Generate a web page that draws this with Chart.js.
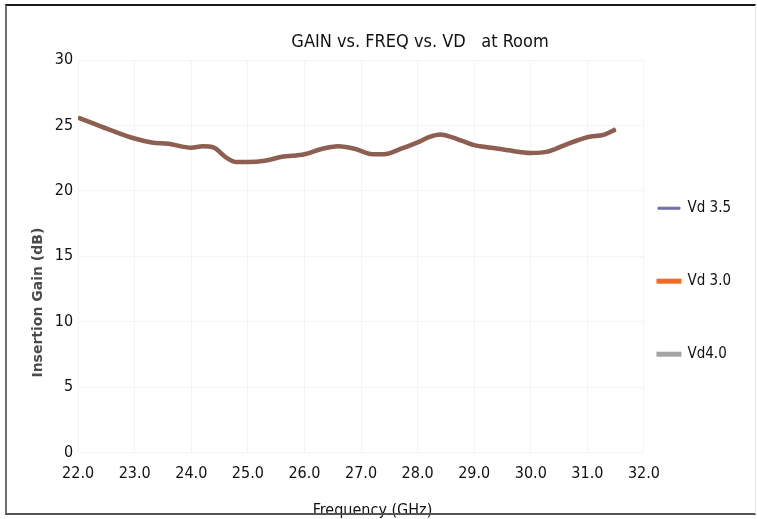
<!DOCTYPE html>
<html>
<head>
<meta charset="utf-8">
<script src="https://cdn.jsdelivr.net/npm/chart.js@4.4.1/dist/chart.umd.min.js"></script>
<style>
  html, body { margin: 0; padding: 0; background: #fff; }
  #wrap { position: absolute; left: 0; top: 0; width: 757px; height: 519px; }
  #frame {
    position: absolute; left: 5px; top: 4px; width: 748px; height: 507px;
    border-top: 2px solid #1a1a1a; border-left: 2px solid #6e6e6e;
    border-bottom: 2px solid #555; border-right: 1px solid #e6e6e6;
    pointer-events: none;
  }
</style>
</head>
<body>
<div id="wrap"><canvas id="gain" width="757" height="519"></canvas></div>
<div id="frame"></div>
<script>
// frequency (GHz) and gain (dB)
const freq = [22.0, 22.3, 22.6, 23.0, 23.3, 23.6, 24.0, 24.2, 24.4, 24.6, 24.8, 25.0, 25.3, 25.6, 26.0, 26.3, 26.6, 26.9, 27.2, 27.4, 27.7, 28.0, 28.2, 28.4, 28.6, 28.8, 29.0, 29.3, 29.6, 30.0, 30.3, 30.6, 31.0, 31.3, 31.5];
const vd35 = [25.6, 25.1, 24.6, 24.0, 23.7, 23.6, 23.3, 23.4, 23.3, 22.6, 22.2, 22.2, 22.3, 22.6, 22.8, 23.2, 23.4, 23.2, 22.8, 22.8, 23.2, 23.7, 24.1, 24.3, 24.1, 23.8, 23.5, 23.3, 23.1, 22.9, 23.0, 23.5, 24.1, 24.3, 24.7];
const vd30 = [25.6, 25.1, 24.6, 24.0, 23.7, 23.6, 23.3, 23.4, 23.3, 22.6, 22.2, 22.2, 22.3, 22.6, 22.8, 23.2, 23.4, 23.2, 22.8, 22.8, 23.2, 23.7, 24.1, 24.3, 24.1, 23.8, 23.5, 23.3, 23.1, 22.9, 23.0, 23.5, 24.1, 24.3, 24.7];
const vd40 = [25.6, 25.1, 24.6, 24.0, 23.7, 23.6, 23.3, 23.4, 23.3, 22.6, 22.2, 22.2, 22.3, 22.6, 22.8, 23.2, 23.4, 23.2, 22.8, 22.8, 23.2, 23.7, 24.1, 24.3, 24.1, 23.8, 23.5, 23.3, 23.1, 22.9, 23.0, 23.5, 24.1, 24.3, 24.7];
const seriesNames = ['Vd 3.5', 'Vd 3.0', 'Vd4.0'];
const legendColors = ['#6f6fa8', '#f26a21', '#a3a3a3'];
const legendWidths = [1, 3, 3];

const narrow = "'Liberation Sans Narrow', 'DejaVu Sans Condensed', sans-serif";

function pts(ys) { return freq.map((f, i) => ({ x: f, y: ys[i] })); }

// title is placed a bit right of center, as in the picture
const titlePlugin = {
  id: 'sideTitle',
  afterDraw(chart) {
    const ctx = chart.ctx;
    ctx.save();
    ctx.font = "18px " + narrow;
    ctx.fillStyle = '#111';
    ctx.textAlign = 'center';
    ctx.textBaseline = 'middle';
    ctx.fillText('GAIN vs. FREQ vs. VD   at Room', 420, 42);
    ctx.restore();
  }
};

new Chart(document.getElementById('gain'), {
  type: 'line',
  data: {
    datasets: [
      { label: seriesNames[2], data: pts(vd40), borderColor: '#8d5e52', borderWidth: 4.5 },
      { label: seriesNames[1], data: pts(vd30), borderColor: '#a85a40', borderWidth: 3 },
      { label: seriesNames[0], data: pts(vd35), borderColor: '#7a4d4e', borderWidth: 1.2 }
    ]
  },
  options: {
    responsive: false,
    animation: false,
    elements: { point: { radius: 0 }, line: { tension: 0.4, cubicInterpolationMode: 'monotone' } },
    layout: { padding: { top: 60, left: 30, right: 16, bottom: -1 } },
    plugins: {
      title: { display: false },
      tooltip: { enabled: false },
      legend: {
        position: 'right',
        title: { display: true, text: ' ', padding: { top: 6, bottom: 6 }, font: { size: 12 } },
        labels: {
          color: '#111',
          font: { family: narrow, size: 15, lineHeight: 1.311 },
          boxWidth: 22,
          boxHeight: 2,
          padding: 14,
          // extra empty lines give the wide gap between the items
          generateLabels() {
            return seriesNames.map((n, i) => ({
              text: [n, '', ''], fillStyle: legendColors[i], strokeStyle: legendColors[i],
              lineWidth: legendWidths[i], fontColor: '#111', datasetIndex: i, hidden: false
            }));
          }
        }
      }
    },
    scales: {
      x: {
        type: 'linear', min: 22, max: 32,
        ticks: { stepSize: 1, color: '#111', padding: 12, font: { family: narrow, size: 16 }, callback: v => v.toFixed(1) },
        grid: { color: '#f4f4f4', drawTicks: false },
        border: { display: false },
        title: { display: true, text: '\u00a0'.repeat(5) + 'Frequency (GHz)', color: '#111', font: { family: narrow, size: 16 }, padding: { top: 5, bottom: 0 } }
      },
      y: {
        min: 0, max: 30,
        ticks: { stepSize: 5, color: '#111', padding: 5, font: { family: narrow, size: 16 } },
        grid: { color: '#f4f4f4', drawTicks: false },
        border: { display: false },
        title: {
          display: true,
          text: 'Insertion Gain (dB)' + '\u00a0'.repeat(19),
          color: '#4a4a4a',
          font: { family: "'DejaVu Sans', sans-serif", size: 14, weight: 'bold' },
          padding: { top: 0, bottom: 3 }
        }
      }
    }
  },
  plugins: [titlePlugin]
});
</script>
</body>
</html>
